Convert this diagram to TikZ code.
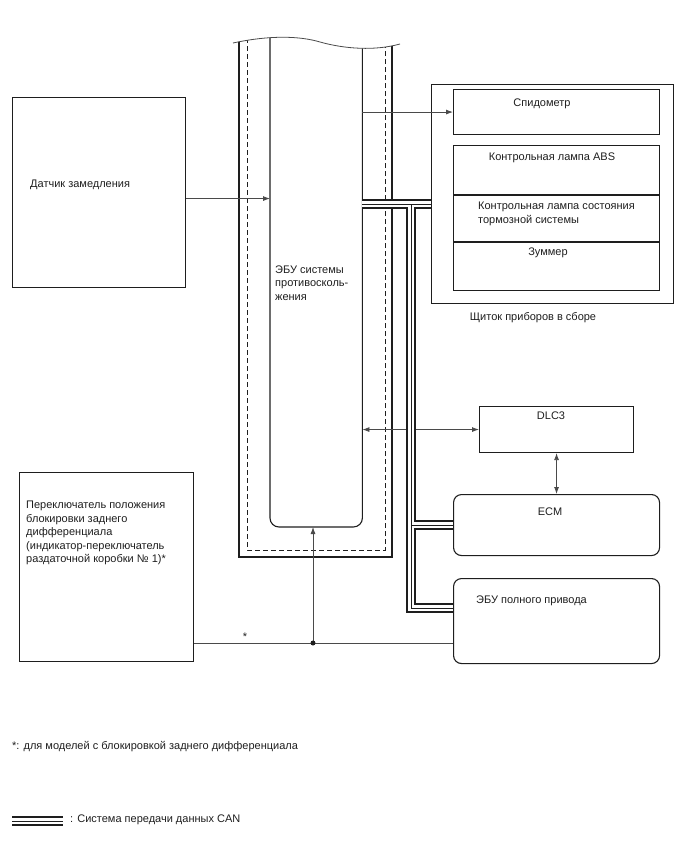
\documentclass[tikz,border=0pt]{standalone}
\usepackage{fontspec}
\setmainfont{Liberation Sans}
\usetikzlibrary{arrows.meta,positioning,calc}
\definecolor{ink}{HTML}{1E1E1E}
\definecolor{wire}{HTML}{4A4A4A}

\begin{document}
\begin{tikzpicture}[x=1pt,y=-1pt,>={Latex[length=7pt,width=5pt]},
 font=\fontsize{11}{13.5}\selectfont,
 unit/.style={draw=ink,line width=1.1pt,inner sep=0pt,anchor=north west},
 ecu/.style={unit,rounded corners=8pt},
 flow/.style={->,line width=0.8pt,draw=wire},
 both/.style={<->,line width=0.8pt,draw=wire},
 txt/.style={text=ink,inner sep=0pt,align=left}]
\useasboundingbox (0,0) rectangle (688,852);
% sensor and ABS ECU
\node[unit,minimum width=173pt,minimum height=190pt] (sensor) at (12,97) {};
\node[txt,anchor=west] at (30,185) {Датчик замедления};
\node[minimum width=92pt,minimum height=490pt,inner sep=0pt,anchor=south west] (abs) at (270,527) {};
\begin{scope}
\clip (233,43) .. controls (270,35) and (300,36) .. (320,42) .. controls (345,49) and (375,51) .. (400,44) -- (400,600) -- (230,600) -- cycle;
\draw[ink,line width=1.3pt] (239,30) -- (239,557) -- (392,557) -- (392,30);
\draw[ink,line width=1pt,dash pattern=on 5pt off 3pt] (247,30) -- (247,550) -- (385,550) -- (385,30);
\draw[ink,line width=1.1pt,rounded corners=9pt] (abs.north west) -- (abs.south west) -- (abs.south east) -- (abs.north east);
\end{scope}
\draw[wire,line width=0.8pt] (233,43) .. controls (270,35) and (300,36) .. (320,42) .. controls (345,49) and (375,51) .. (400,44);
\node[txt,anchor=west] at (275,283) {ЭБУ системы\\противосколь-\\жения};
% combination meter
\node[unit,minimum width=242pt,minimum height=219pt] (cluster) at (431,84) {};
\node[txt] at (533,318) {Щиток приборов в сборе};
\node[unit,minimum width=206pt,minimum height=45pt] (speedo) at (453,89) {};
\node[unit,minimum width=206pt,minimum height=49pt] (abslamp) at (453,145) {};
\node[unit,minimum width=206pt,minimum height=46pt] (brakelamp) at (abslamp.south west) {};
\node[unit,minimum width=206pt,minimum height=48pt] (buzzer) at (brakelamp.south west) {};
\node[txt] at (542,104) {Спидометр};
\node[txt] at (552,158) {Контрольная лампа ABS};
\node[txt,anchor=west] at (478,214) {Контрольная лампа состояния\\тормозной системы};
\node[txt] at (548,253) {Зуммер};
% DLC3, ECM, 4WD
\node[unit,minimum width=154pt,minimum height=46pt] (dlc) at (479,406) {};
\node[txt] at (551,416) {DLC3};
\node[ecu,minimum width=206pt,minimum height=61pt] (ecm) at (453,494) {};
\node[txt] at (550,512) {ECM};
\node[ecu,minimum width=206pt,minimum height=85pt] (awd) at (453,578) {};
\node[txt,anchor=west] at (476,601) {ЭБУ полного привода};
\node[unit,minimum width=174pt,minimum height=189pt] (lockswitch) at (19,472) {};
\node[txt,anchor=west] at (26,533) {Переключатель положения\\блокировки заднего\\дифференциала\\(индикатор-переключатель\\раздаточной коробки № 1)*};
% connectors
\draw[flow] ([yshift=-6pt]sensor.east) -- ([yshift=-6pt]sensor.east -| abs.west);
\draw[flow] (speedo.west -| abs.east) -- (speedo.west);
\draw[both] (dlc.west -| abs.east) -- (dlc.west);
\draw[both] (dlc.south) -- (ecm.north);
\coordinate (tap) at (313,643);
\draw[wire,line width=0.8pt] (tap -| lockswitch.east) -- (tap -| awd.west);
\draw[flow] (tap) -- (tap |- abs.south);
\fill[ink] (tap) circle (2.5pt);
\node[txt] at (245,637) {*};
% CAN bus
\coordinate (busT) at (411,204);
\coordinate (busB) at (411,608);
\coordinate (key1) at (12,821);
\coordinate (key2) at (63,821);
\foreach \w/\c in {10pt/ink,6pt/white,1pt/ink}{
 \draw[line width=\w,draw=\c] (busT -| abs.east) -- (busT -| cluster.west);
 \draw[line width=\w,draw=\c] (busT) -- (busB) -- (busB -| awd.west);
 \draw[line width=\w,draw=\c] (ecm.west -| busT) -- (ecm.west);
 \draw[line width=\w,draw=\c] (key1) -- (key2);
}
\node[txt,anchor=west] at (12,747) {*: для моделей с блокировкой заднего дифференциала};
\node[txt,anchor=west] at (70,820) {: Система передачи данных CAN};
\end{tikzpicture}
\end{document}
